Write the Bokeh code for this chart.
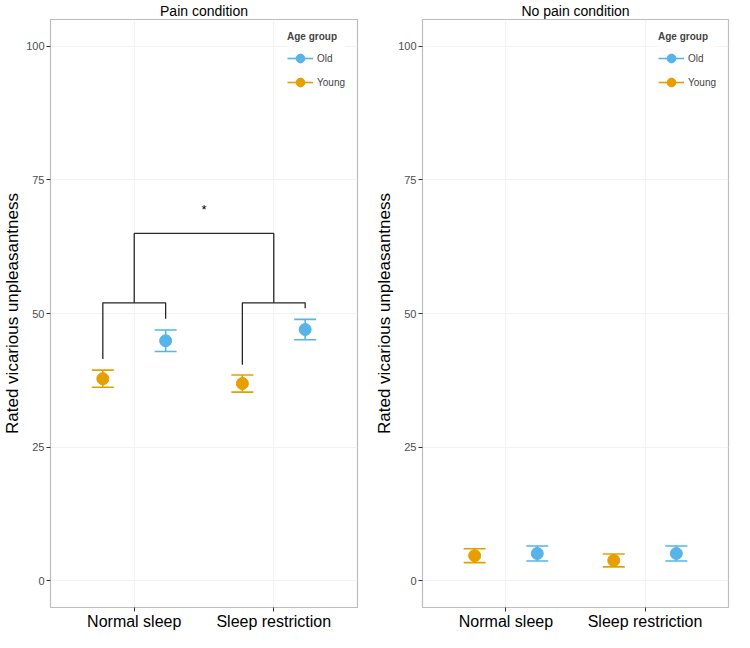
from bokeh.plotting import figure
from bokeh.models import (ColumnDataSource, Whisker, TeeHead, FixedTicker, Range1d,
                          Legend, LegendItem)
from bokeh.layouts import row
from bokeh.embed import file_html
from bokeh.resources import INLINE

# ---------------- data ----------------
categories = ["Normal sleep", "Sleep restriction"]
groups = ["Old", "Young"]
group_colors = {"Old": "#56B4E9", "Young": "#E69F00"}
group_dodge = {"Old": 0.225, "Young": -0.225}

pain_old_mean = [44.9, 47.0]
pain_old_se = [2.0, 1.9]
pain_young_mean = [37.8, 36.9]
pain_young_se = [1.6, 1.6]

nopain_old_mean = [5.1, 5.1]
nopain_old_se = [1.4, 1.4]
nopain_young_mean = [4.7, 3.8]
nopain_young_se = [1.3, 1.2]

y_ticks = [0, 25, 50, 75, 100]

# significance bracket (pain panel)
bracket_leg_old = [49.0, 51.0]
bracket_leg_young = [41.5, 40.4]
bracket_inner = 52.0
bracket_outer = 65.0
bracket_star_y = 69.5

FONT = "Liberation Sans"


def make_panel(title, data, width, rb, show_bracket):
    p = figure(width=width, height=632, output_backend="svg", toolbar_location=None,
               x_range=Range1d(0.4, 2.6), y_range=Range1d(-5, 105),
               min_border_left=10, min_border_right=rb, min_border_top=4,
               min_border_bottom=6)
    p.title.text = title
    p.title.align = "center"
    p.title.text_font = FONT
    p.title.text_font_size = "14px"
    p.title.text_font_style = "normal"
    p.title.text_color = "#000000"
    p.title.standoff = 1

    p.outline_line_color = "#BDBDBD"
    p.outline_line_width = 1.2
    p.background_fill_color = "white"
    p.border_fill_color = "white"

    p.xgrid.grid_line_color = "#F2F2F2"
    p.ygrid.grid_line_color = "#F2F2F2"

    xpos = [i + 1 for i in range(len(categories))]
    p.xaxis.ticker = FixedTicker(ticks=xpos)
    p.xaxis.major_label_overrides = {x: c for x, c in zip(xpos, categories)}
    p.yaxis.ticker = FixedTicker(ticks=y_ticks)

    for ax in (p.xaxis, p.yaxis):
        ax.axis_line_color = None
        ax.major_tick_in = 0
        ax.major_tick_out = 4
        ax.major_tick_line_color = "#333333"
        ax.minor_tick_line_color = None
        ax.major_label_standoff = 2
        ax.major_label_text_font = FONT
    p.xaxis.major_label_standoff = 1
    p.xaxis.major_label_text_font_size = "16px"
    p.xaxis.major_label_text_color = "#000000"
    p.yaxis.major_label_text_font_size = "11px"
    p.yaxis.major_label_text_color = "#4D4D4D"
    p.yaxis.axis_label = "Rated vicarious unpleasantness"
    p.yaxis.axis_label_text_font = FONT
    p.yaxis.axis_label_text_font_size = "17px"
    p.yaxis.axis_label_text_font_style = "normal"
    p.yaxis.axis_label_text_color = "#000000"
    p.yaxis.axis_label_standoff = 1

    if show_bracket:
        xs, ys = [], []
        for i, x in enumerate(xpos):
            xo = x + group_dodge["Old"]
            xy = x + group_dodge["Young"]
            xs.append([xy, xy, xo, xo])
            ys.append([bracket_leg_young[i], bracket_inner, bracket_inner, bracket_leg_old[i]])
            xs.append([x, x])
            ys.append([bracket_inner, bracket_outer])
        xs.append([xpos[0], xpos[-1]])
        ys.append([bracket_outer, bracket_outer])
        p.multi_line(xs=xs, ys=ys, line_color="#262626", line_width=1.3)
        p.text(x=[(xpos[0] + xpos[-1]) / 2], y=[bracket_star_y], text=["*"],
               text_align="center", text_baseline="middle", text_font_size="13px",
               text_color="#000000")

    items = []
    for g in groups:
        mean, se = data[g]
        col = group_colors[g]
        src = ColumnDataSource(dict(
            x=[x + group_dodge[g] for x in xpos],
            y=mean,
            upper=[m + s for m, s in zip(mean, se)],
            lower=[m - s for m, s in zip(mean, se)],
        ))
        w = Whisker(base="x", upper="upper", lower="lower", source=src, dimension="height",
                    line_color=col, line_width=1.6,
                    upper_head=TeeHead(size=22, line_color=col, line_width=1.6),
                    lower_head=TeeHead(size=22, line_color=col, line_width=1.6))
        p.add_layout(w)
        sr = p.scatter(x="x", y="y", source=src, size=12, fill_color=col, line_color=col)
        dummy = p.line(x=[float("nan")], y=[float("nan")], line_color=col, line_width=1.6)
        items.append(LegendItem(label=g, renderers=[dummy, sr]))

    leg = Legend(items=items, location="top_right", title="Age group")
    leg.title_text_font = FONT
    leg.title_text_font_size = "10px"
    leg.title_text_font_style = "bold"
    leg.title_standoff = 5
    leg.label_text_font = FONT
    leg.label_text_font_size = "10px"
    leg.label_standoff = 4
    leg.glyph_width = 26
    leg.glyph_height = 22
    leg.spacing = 2
    leg.padding = 8
    leg.margin = 12
    leg.border_line_color = None
    leg.background_fill_color = "white"
    leg.background_fill_alpha = 1.0
    p.add_layout(leg)
    return p


p1 = make_panel("Pain condition",
                {"Old": (pain_old_mean, pain_old_se), "Young": (pain_young_mean, pain_young_se)},
                372, 15, True)
p2 = make_panel("No pain condition",
                {"Old": (nopain_old_mean, nopain_old_se), "Young": (nopain_young_mean, nopain_young_se)},
                362, 6, False)

layout = row(p1, p2)
open("out.html", "w").write(file_html(layout, INLINE))
